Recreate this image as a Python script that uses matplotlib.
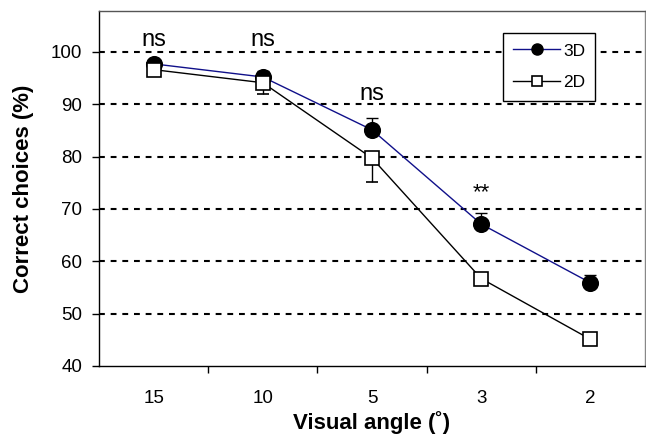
import matplotlib
matplotlib.use("Agg")
import matplotlib.pyplot as plt
from matplotlib.lines import Line2D
import numpy as np

plt.rcParams["font.family"] = ["Liberation Sans", "DejaVu Sans"]

angles = ["15", "10", "5", "3", "2"]
vals_3d = [97.7, 95.2, 85.1, 67.1, 55.9]
err_3d = [0.5, 1.2, 2.2, 2.2, 1.5]
vals_2d = [96.6, 94.1, 79.7, 56.7, 45.1]
err_2d = [0.5, 2.1, 4.5, 1.0, 0.5]
sig_labels = ["ns", "ns", "ns", "**", ""]
sig_y = [101.2, 101.2, 90.8, 72.1, 0]

x = np.arange(len(angles))
blue = "#10108a"

fig = plt.figure(figsize=(6.46, 4.40), dpi=100)
ax = fig.add_axes([99 / 646, 74 / 440, 546 / 646, 355 / 440])

for yv in range(50, 101, 10):
    ax.axhline(yv, color="black", lw=1.5, ls=(0, (2.8, 2.8)), zorder=1)

ax.errorbar(x, vals_3d, yerr=[np.zeros(5), err_3d], color=blue, lw=1,
            marker="o", ms=11.3, mfc="black", mec="black", ecolor="black",
            elinewidth=1, capsize=4.3, capthick=1, zorder=3)
ax.errorbar(x, vals_2d, yerr=[err_2d, np.zeros(5)], color="black", lw=1,
            marker="s", ms=10.5, mfc="white", mec="black", mew=1.2, ecolor="black",
            elinewidth=1, capsize=4.3, capthick=1, zorder=4)

for xi, lab, yy in zip(x, sig_labels, sig_y):
    if lab == "ns":
        ax.text(xi, yy, lab, ha="center", va="baseline", fontsize=17)
    elif lab:
        ax.text(xi, yy, lab, ha="center", va="baseline", fontsize=16)

ax.set_xlim(-0.5, 4.5)
ax.set_ylim(40, 107.8)
ax.set_yticks(range(40, 101, 10))
ax.set_xticks(x)
ax.set_xticklabels(angles)
ax.set_xticks(np.arange(0.5, 4, 1), minor=True)
ax.tick_params(axis="x", which="major", length=0, pad=17, labelsize=13.5)
ax.tick_params(axis="x", which="minor", length=5, width=1)
ax.tick_params(axis="y", length=5, width=1, pad=7, labelsize=13.5)

for s in ax.spines.values():
    s.set_linewidth(1)
ax.spines["top"].set_color("#555555")
ax.spines["right"].set_color("#888888")

ax.set_xlabel("Visual angle (˚)", fontsize=16, fontweight="bold", labelpad=3)
ax.set_ylabel("Correct choices (%)", fontsize=16, fontweight="bold", labelpad=12)

handles = [
    Line2D([], [], color=blue, lw=1, marker="o", ms=8, mfc="black", mec="black"),
    Line2D([], [], color="black", lw=1, marker="s", ms=7.5, mfc="white", mec="black", mew=1.2),
]
leg = ax.legend(handles, ["3D", "2D"], loc="upper left",
                bbox_to_anchor=(503 / 646, 1 - 33 / 440),
                bbox_transform=fig.transFigure, fontsize=12.5, fancybox=False,
                framealpha=1, edgecolor="black", handlelength=2.7,
                handletextpad=0.15, borderpad=0.6, labelspacing=0.95,
                borderaxespad=0)
leg.get_frame().set_linewidth(1)

fig.savefig("out.png", dpi=100)
